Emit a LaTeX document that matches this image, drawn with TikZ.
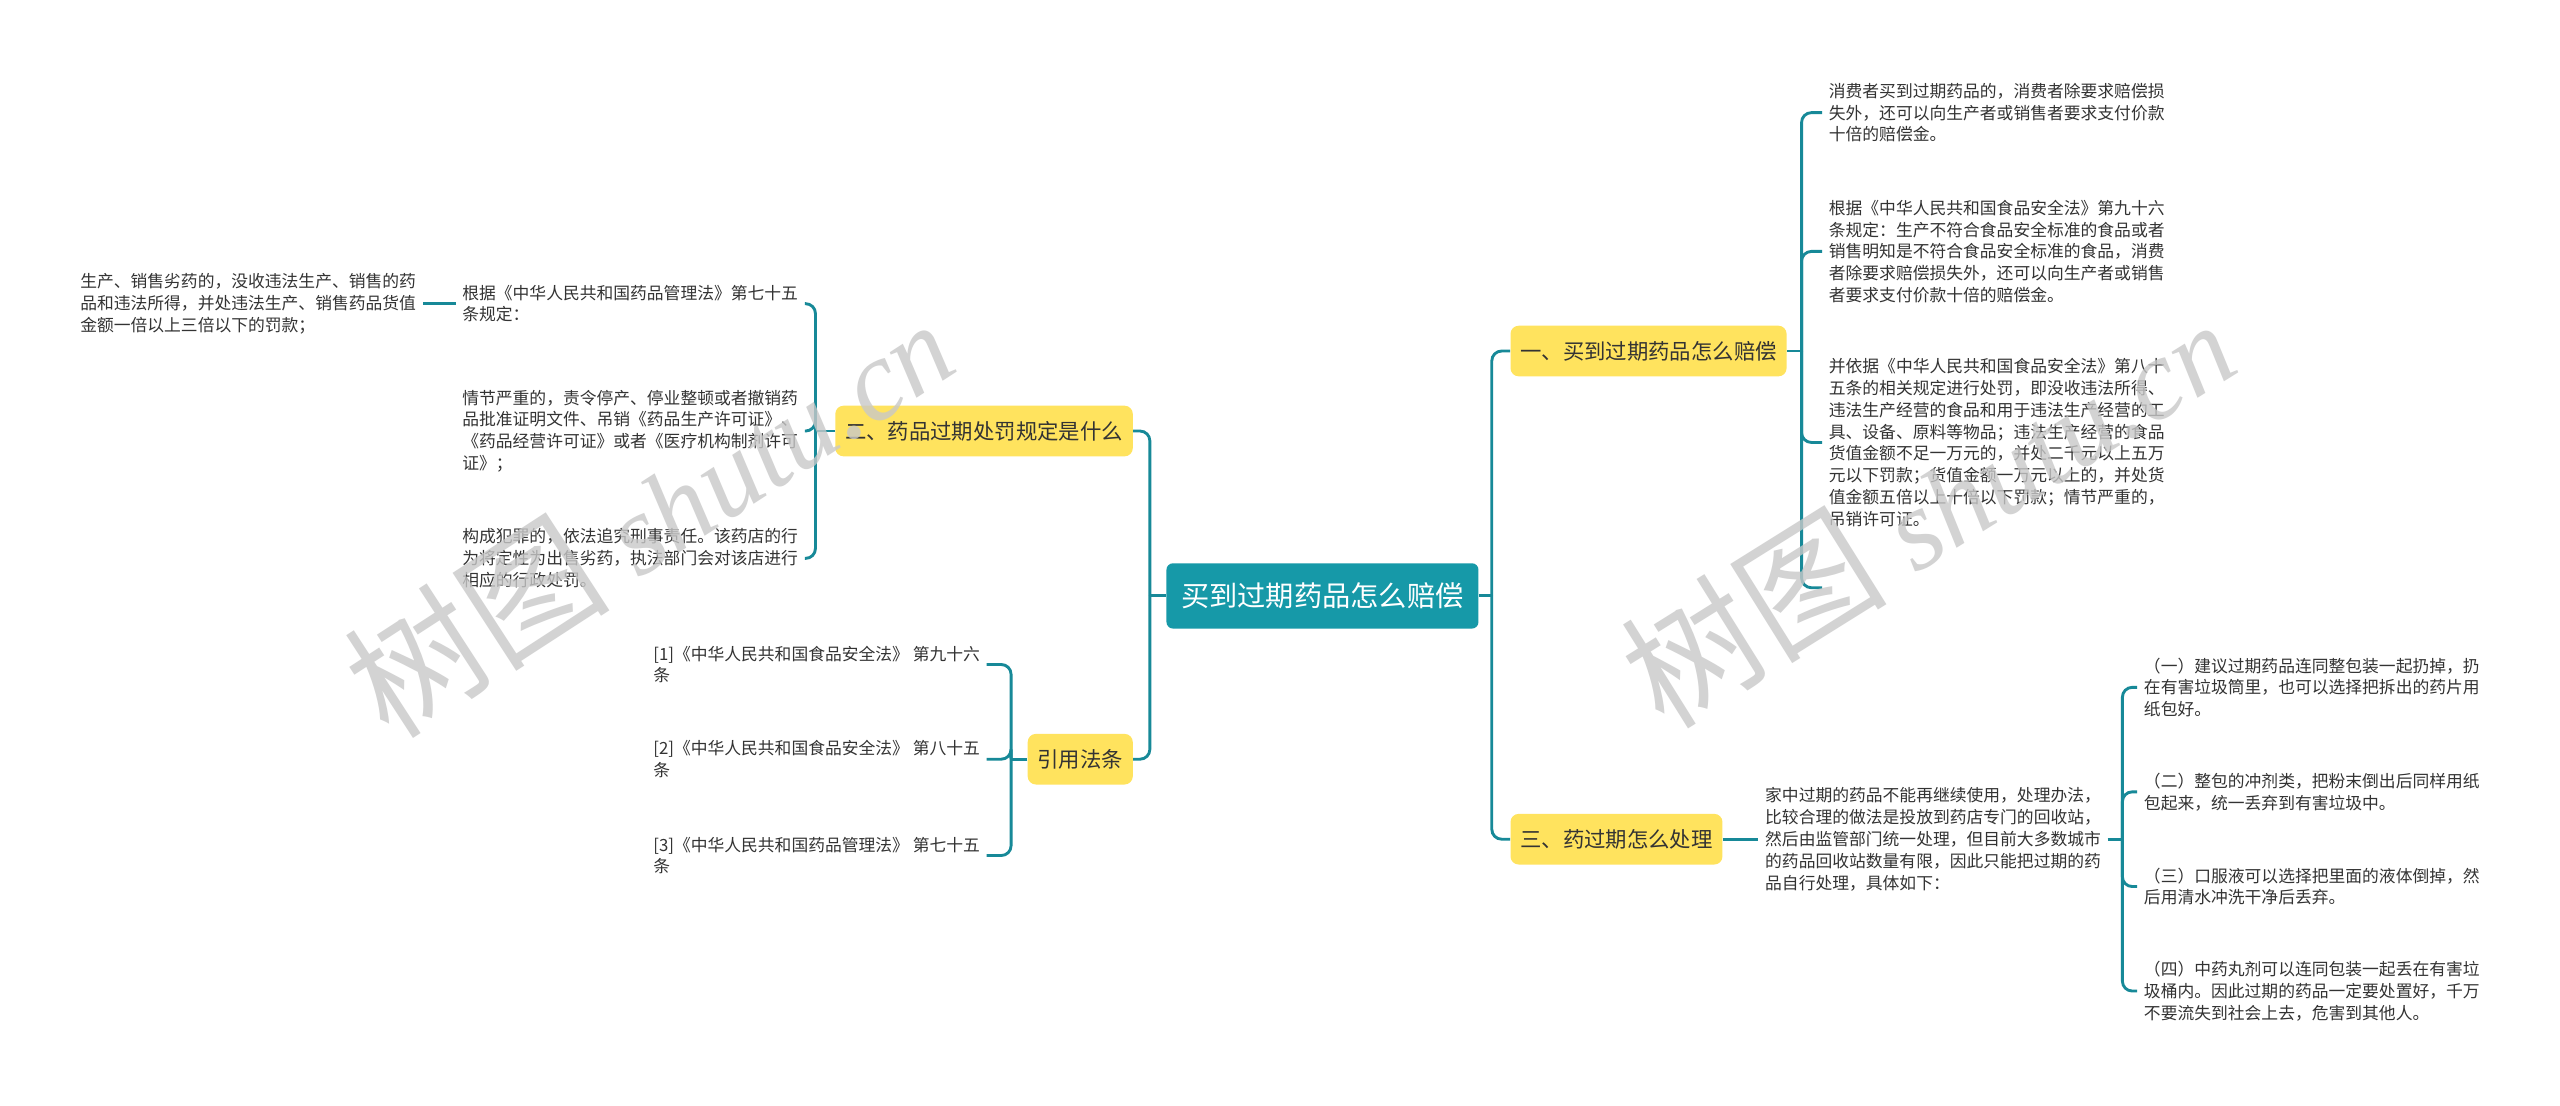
\documentclass[tikz,border=0pt]{standalone}
\usepackage{fontspec}
\setmainfont{Noto Sans CJK SC}
\newfontfamily\wmlatin{Liberation Serif}
\usepackage{xcolor}
\usepackage{tikz}
\usetikzlibrary{positioning}

\definecolor{rootcol}{RGB}{22,153,168}
\definecolor{linecol}{RGB}{23,137,152}
\definecolor{topiccol}{RGB}{255,227,94}
\definecolor{leafcol}{RGB}{51,51,51}
\definecolor{markcol}{RGB}{200,200,200}

\begin{document}
\begin{tikzpicture}[
    x=0.4mm, y=-0.4mm,
    root/.style={fill=rootcol, text=white, rounded corners=1.6mm, minimum height=16mm,
                 inner xsep=3.6mm, font=\fontsize{19.7pt}{23pt}\selectfont},
    topic/.style={fill=topiccol, text=leafcol, rounded corners=2mm, minimum height=12.4mm,
                  inner xsep=2.4mm, font=\fontsize{14.9pt}{18pt}\selectfont},
    leaf/.style={text=leafcol, align=left, inner xsep=1.6mm, inner ysep=0.8mm,
                 font=\fontsize{11.7pt}{15.2pt}\selectfont},
    wmark/.style={text=markcol, text opacity=0.8, font=\fontsize{93pt}{98pt}\selectfont},
    link/.style={draw=linecol, line width=2pt, rounded corners=2.4mm}]
    \fill[white] (0,0) rectangle (1568,677);
    \node[root] (root) at (810,365) {买到过期药品怎么赔偿};
    \node[topic, anchor=east] (penalty) at (694,264) {二、药品过期处罚规定是什么};
    \node[topic, anchor=east] (cite)    at (694,465) {引用法条};
    \node[topic, anchor=west] (comp)    at (925,215) {一、买到过期药品怎么赔偿};
    \node[topic, anchor=west] (dispose) at (925,514) {三、药过期怎么处理};
    \node[leaf, anchor=west] (law)     at (279,186) {根据《中华人民共和国药品管理法》第七十五\\条规定：};
    \node[leaf, anchor=west] (worse)   at (45,186)  {生产、销售劣药的，没收违法生产、销售的药\\品和违法所得，并处违法生产、销售药品货值\\金额一倍以上三倍以下的罚款；};
    \node[leaf, anchor=west] (serious) at (279,264) {情节严重的，责令停产、停业整顿或者撤销药\\品批准证明文件、吊销《药品生产许可证》、\\《药品经营许可证》或者《医疗机构制剂许可\\证》；};
    \node[leaf, anchor=west] (crime)   at (279,342) {构成犯罪的，依法追究刑事责任。该药店的行\\为将定性为出售劣药，执法部门会对该店进行\\相应的行政处罚。};
    \node[leaf, anchor=west] (ref1) at (396,407) {[1]《中华人民共和国食品安全法》 第九十六\\条};
    \node[leaf, anchor=west] (ref2) at (396,465) {[2]《中华人民共和国食品安全法》 第八十五\\条};
    \node[leaf, anchor=west] (ref3) at (396,524) {[3]《中华人民共和国药品管理法》 第七十五\\条};
    \node[leaf, anchor=west] (tenfold) at (1116,69)  {消费者买到过期药品的，消费者除要求赔偿损\\失外，还可以向生产者或销售者要求支付价款\\十倍的赔偿金。};
    \node[leaf, anchor=west] (art96)   at (1116,154) {根据《中华人民共和国食品安全法》第九十六\\条规定：生产不符合食品安全标准的食品或者\\销售明知是不符合食品安全标准的食品，消费\\者除要求赔偿损失外，还可以向生产者或销售\\者要求支付价款十倍的赔偿金。};
    \node[leaf, anchor=west] (art85)   at (1116,271) {并依据《中华人民共和国食品安全法》第八十\\五条的相关规定进行处罚，即没收违法所得、\\违法生产经营的食品和用于违法生产经营的工\\具、设备、原料等物品；违法生产经营的食品\\货值金额不足一万元的，并处二千元以上五万\\元以下罚款；货值金额一万元以上的，并处货\\值金额五倍以上十倍以下罚款；情节严重的，\\吊销许可证。};
    \coordinate (blank) at (1116,360);
    \node[leaf, anchor=west] (home) at (1077,514) {家中过期的药品不能再继续使用，处理办法，\\比较合理的做法是投放到药店专门的回收站，\\然后由监管部门统一处理，但目前大多数城市\\的药品回收站数量有限，因此只能把过期的药\\品自行处理，具体如下：};
    \node[leaf, anchor=west] (way1) at (1309,421) {（一）建议过期药品连同整包装一起扔掉，扔\\在有害垃圾筒里，也可以选择把拆出的药片用\\纸包好。};
    \node[leaf, anchor=west] (way2) at (1309,485) {（二）整包的冲剂类，把粉末倒出后同样用纸\\包起来，统一丢弃到有害垃圾中。};
    \node[leaf, anchor=west] (way3) at (1309,543) {（三）口服液可以选择把里面的液体倒掉，然\\后用清水冲洗干净后丢弃。};
    \node[leaf, anchor=west] (way4) at (1309,607) {（四）中药丸剂可以连同包装一起丢在有害垃\\圾桶内。因此过期的药品一定要处置好，千万\\不要流失到社会上去，危害到其他人。};
    \draw[link] (root.west) -- ++(-10,0) coordinate (rootL);
    \draw[link] (penalty.east) -| (rootL);
    \draw[link] (cite.east) -| (rootL);
    \draw[link] (root.east) -- ++(8,0) coordinate (rootR);
    \draw[link] (comp.west) -| (rootR);
    \draw[link] (dispose.west) -| (rootR);
    \draw[link] (penalty.west) -- ++(-12,0) coordinate (penL);
    \draw[link] (law.east) -| (penL);
    \draw[link] (serious.east) -| (penL);
    \draw[link] (crime.east) -| (penL);
    \draw[link] (law.west) -- (worse.east);
    \draw[link] (cite.west) -- ++(-10,0) coordinate (citeL);
    \draw[link] (ref1.east) -| (citeL);
    \draw[link] (ref2.east) -| (citeL);
    \draw[link] (ref3.east) -| (citeL);
    \draw[link] (comp.east) -- ++(9,0) coordinate (compR);
    \draw[link] (tenfold.west) -| (compR);
    \draw[link] (art96.west) -| (compR);
    \draw[link] (art85.west) -| (compR);
    \draw[link] (blank) -| (compR);
    \draw[link] (dispose.east) -- (home.west);
    \draw[link] (home.east) -- ++(9,0) coordinate (homeR);
    \draw[link] (way1.west) -| (homeR);
    \draw[link] (way2.west) -| (homeR);
    \draw[link] (way3.west) -| (homeR);
    \draw[link] (way4.west) -| (homeR);
    \node[wmark, rotate=33] (markL) at (397,314) {树图 {\wmlatin\itshape\fontsize{80pt}{84pt}\selectfont shutu.cn}};
    \node[wmark, rotate=32] (markR) at (1180,311) {树图 {\wmlatin\itshape\fontsize{80pt}{84pt}\selectfont shutu.cn}};
\end{tikzpicture}
\end{document}
